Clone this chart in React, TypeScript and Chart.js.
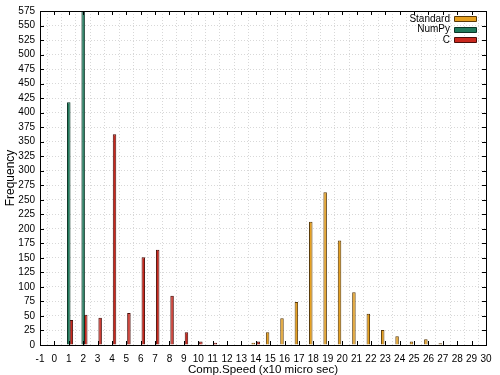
import React, { useEffect, useRef } from "react";
import { Chart, registerables } from "chart.js";

Chart.register(...registerables);

const categories: string[] = [
  "-1", "0", "1", "2", "3", "4", "5", "6", "7", "8", "9", "10", "11", "12", "13", "14",
  "15", "16", "17", "18", "19", "20", "21", "22", "23", "24", "25", "26", "27", "28", "29", "30",
];
//                       -1 0  1    2    3   4    5   6    7    8   9  10 11 12 13 14 15  16  17  18   19   20   21  22  23  24 25 26  27 28 29 30
const standardValues = [0, 0, 0, 0, 0, 0, 0, 0, 0, 0, 0, 0, 0, 0, 0, 4, 22, 46, 74, 212, 263, 180, 91, 54, 26, 15, 6, 10, 3, 1, 0, 0];
const numpyValues = [0, 0, 418, 600, 0, 0, 0, 0, 0, 0, 0, 0, 0, 0, 0, 0, 0, 0, 0, 0, 0, 0, 0, 0, 0, 0, 0, 0, 0, 0, 0, 0];
const cValues = [0, 0, 43, 52, 47, 363, 55, 151, 164, 85, 22, 6, 4, 1, 1, 6, 0, 0, 0, 0, 0, 0, 0, 0, 0, 0, 0, 0, 0, 0, 0, 0];

const seriesNames = ["Standard", "NumPy", "C"];
const seriesFill = ["#e6a020", "#1f7a5c", "#c9281e"];
const seriesEdge = ["#5a3a08", "#0c3526", "#4a0e0a"];

const yMin = 0;
const yMax = 575;
const yStep = 25;

const FONT = "'Liberation Sans', Arial, Helvetica, sans-serif";

const framePlugin = {
  id: "framePlugin",
  afterDraw(chart: any) {
    const { ctx, chartArea } = chart;
    const { left, right, top, bottom } = chartArea;
    const xs = chart.scales.x;
    const ys = chart.scales.y;
    ctx.save();
    ctx.strokeStyle = "#000";
    ctx.lineWidth = 1;
    ctx.strokeRect(Math.round(left) + 0.5, Math.round(top) + 0.5, Math.round(right - left), Math.round(bottom - top));
    const tl = 4;
    ctx.beginPath();
    xs.ticks.forEach((_t: any, i: number) => {
      const px = Math.round(xs.getPixelForTick(i)) + 0.5;
      ctx.moveTo(px, bottom);
      ctx.lineTo(px, bottom - tl);
      ctx.moveTo(px, top);
      ctx.lineTo(px, top + tl);
    });
    ys.ticks.forEach((_t: any, i: number) => {
      const py = Math.round(ys.getPixelForTick(i)) + 0.5;
      ctx.moveTo(left, py);
      ctx.lineTo(left + tl, py);
      ctx.moveTo(right, py);
      ctx.lineTo(right - tl, py);
    });
    ctx.stroke();

    ctx.font = `10px ${FONT}`;
    ctx.textAlign = "right";
    ctx.textBaseline = "middle";
    const boxRight = right - 10;
    const boxW = 22;
    const boxH = 5;
    seriesNames.forEach((name, i) => {
      const cy = top + 7.8 + i * 10.3;
      ctx.fillStyle = "#000";
      ctx.fillText(name, boxRight - boxW - 4, cy + 0.5);
      ctx.fillStyle = seriesFill[i];
      ctx.strokeStyle = seriesEdge[i];
      ctx.lineWidth = 1;
      ctx.beginPath();
      ctx.rect(boxRight - boxW + 0.5, Math.round(cy - boxH / 2) + 0.5, boxW, boxH);
      ctx.fill();
      ctx.stroke();
    });
    ctx.restore();
  },
};

export default function App() {
  const ref = useRef<HTMLCanvasElement | null>(null);

  useEffect(() => {
    if (!ref.current) return;
    const values = [standardValues, numpyValues, cValues];
    const chart = new Chart(ref.current, {
      type: "bar",
      data: {
        labels: categories,
        datasets: seriesNames.map((name, i) => ({
          label: name,
          data: values[i],
          backgroundColor: seriesFill[i],
          borderColor: seriesEdge[i],
          borderWidth: 1,
          categoryPercentage: 0.54,
          barPercentage: 1.35,
        })),
      },
      options: {
        responsive: false,
        animation: false,
        layout: { padding: { top: 10, right: 14, left: 0, bottom: 0 } },
        plugins: {
          legend: { display: false },
          tooltip: { enabled: false },
        },
        scales: {
          x: {
            type: "category",
            offset: false,
            grid: { display: true, color: "#d8d8d8", lineWidth: 1, drawTicks: false },
            border: { display: false, dash: [1, 2] },
            ticks: {
              autoSkip: false,
              maxRotation: 0,
              minRotation: 0,
              padding: 8,
              color: "#000",
              font: { family: FONT, size: 10 },
            },
            title: {
              display: true,
              text: "Comp.Speed (x10 micro sec)",
              color: "#000",
              font: { family: FONT, size: 11.6 },
              padding: { top: 1, bottom: -2 },
            },
            afterFit: (scale: any) => {
              scale.height = 30;
            },
          },
          y: {
            min: yMin,
            max: yMax,
            grid: { display: true, color: "#d8d8d8", lineWidth: 1, drawTicks: false },
            border: { display: false, dash: [1, 2] },
            ticks: {
              stepSize: yStep,
              autoSkip: false,
              padding: 5,
              color: "#000",
              font: { family: FONT, size: 10 },
            },
            title: {
              display: true,
              text: "Frequency",
              color: "#000",
              font: { family: FONT, size: 12 },
              padding: { top: 3, bottom: 0 },
            },
            afterFit: (scale: any) => {
              scale.width = 40;
            },
          },
        },
      },
      plugins: [framePlugin],
    });
    return () => chart.destroy();
  }, []);

  return (
    <div style={{ position: "absolute", left: 0, top: 0, width: 500, height: 375, background: "#fff" }}>
      <canvas ref={ref} width={500} height={375} style={{ display: "block" }} />
    </div>
  );
}
